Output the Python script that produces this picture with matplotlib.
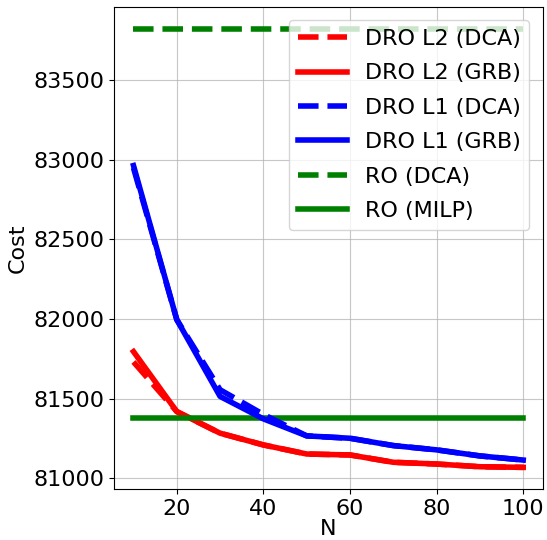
import matplotlib
matplotlib.use("Agg")
import matplotlib.pyplot as plt

N = [10, 20, 30, 40, 50, 60, 70, 80, 90, 100]
dro_l2_dca = [81730, 81418, 81282, 81208, 81151, 81145, 81099, 81088, 81071, 81067]
dro_l2_grb = [81795, 81418, 81282, 81208, 81151, 81145, 81099, 81088, 81071, 81067]
dro_l1_dca = [82950, 81996, 81555, 81400, 81265, 81250, 81204, 81177, 81139, 81113]
dro_l1_grb = [82965, 81996, 81513, 81372, 81265, 81250, 81204, 81177, 81139, 81113]
ro_dca = [83826] * len(N)
ro_milp = [81380] * len(N)

plt.rcParams['font.family'] = ['DejaVu Sans']
fig = plt.figure(figsize=(5.47, 5.40), dpi=100)
ax = fig.add_axes([114/547, 1-489.3/540, (542.7-114)/547, (489.3-6.7)/540])

lw = 4
ax.plot(N, dro_l2_dca, '--', color='red', lw=lw, label='DRO L2 (DCA)', zorder=2)
ax.plot(N, dro_l2_grb, '-', color='red', lw=lw, label='DRO L2 (GRB)', zorder=2)
ax.plot(N, dro_l1_dca, '--', color='blue', lw=lw, label='DRO L1 (DCA)', zorder=4)
ax.plot(N, dro_l1_grb, '-', color='blue', lw=lw, label='DRO L1 (GRB)', zorder=4)
ax.plot(N, ro_dca, '--', color='green', lw=lw, label='RO (DCA)', zorder=3)
ax.plot(N, ro_milp, '-', color='green', lw=lw, label='RO (MILP)', zorder=3)

ax.grid(True, color='#b0b0b0', lw=0.8, alpha=0.7)
ax.set_xlabel('N', fontsize=16, labelpad=0)
ax.set_ylabel('Cost', fontsize=16)
ax.tick_params(labelsize=16)
ax.set_xticks([20, 40, 60, 80, 100])
ax.set_yticks([81000, 81500, 82000, 82500, 83000, 83500])
ax.legend(fontsize=16, loc='upper right', labelspacing=0.65, handlelength=2.2,
          borderaxespad=0.6)

fig.savefig('out.png', dpi=100)
